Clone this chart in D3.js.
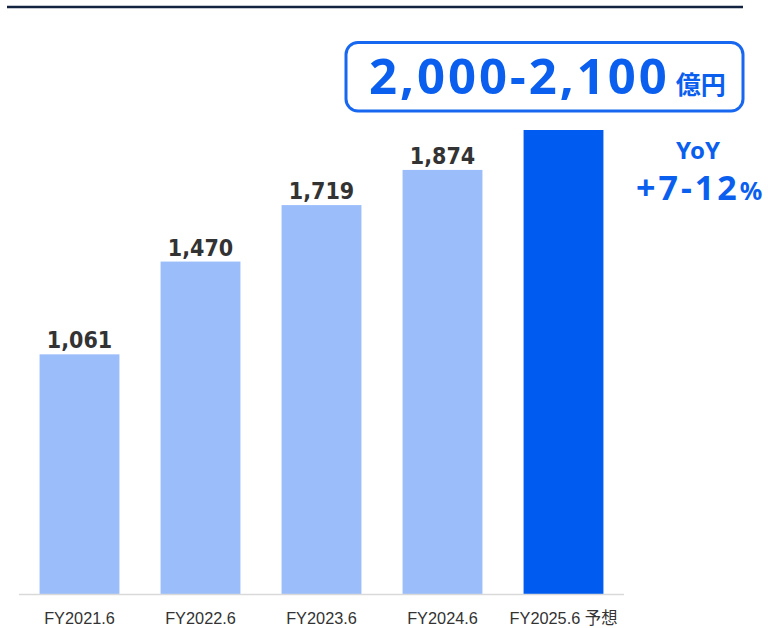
<!doctype html>
<html lang="ja">
<head>
<meta charset="utf-8">
<title>売上推移</title>
<script src="https://cdn.jsdelivr.net/npm/d3@7"></script>
<style>
  body { margin: 0; background: #fff; }
  svg { display: block; font-family: "DejaVu Sans", Verdana, sans-serif; }
</style>
</head>
<body>
<div id="chart"></div>
<script>
  // data
  let categories = ["FY2021.6", "FY2022.6", "FY2023.6", "FY2024.6", "FY2025.6 予想"];
  let values = [1061, 1470, 1719, 1874, 2050];
  let labels = ["1,061", "1,470", "1,719", "1,874", ""];
  let forecastRange = "2,000-2,100";
  let forecastUnit = "億円";
  let yoyText = "+7-12";

  let w = 768, h = 628;
  let blue = "#0b5fef";
  let svg = d3.select("#chart").append("svg")
    .attr("width", w).attr("height", h);

  // top rule
  svg.append("line")
    .attr("x1", 7).attr("x2", 743).attr("y1", 7).attr("y2", 7)
    .attr("stroke", "#13233f").attr("stroke-width", 2.5);

  let x = d3.scaleBand()
    .domain(categories)
    .range([19, 624])
    .paddingInner(0.34)
    .paddingOuter(0.17);

  let y = d3.scaleLinear()
    .domain([0, 2050])
    .range([595, 130]);

  // bars
  svg.selectAll("rect.bar")
    .data(values)
    .enter()
    .append("rect")
    .attr("class", "bar")
    .attr("x", (d, i) => x(categories[i]))
    .attr("width", x.bandwidth())
    .attr("y", d => y(d))
    .attr("height", d => y(0) - y(d))
    .attr("fill", (d, i) => i === 4 ? "#005cf0" : "#9bbefb");

  // baseline
  svg.append("line")
    .attr("x1", 19).attr("x2", 624)
    .attr("y1", 594.5).attr("y2", 594.5)
    .attr("stroke", "#d9d9d9").attr("stroke-width", 1.5);

  // value labels (slightly condensed, like the original)
  svg.selectAll("text.val")
    .data(values)
    .enter()
    .append("text")
    .attr("class", "val")
    .attr("transform", (d, i) =>
      "translate(" + (x(categories[i]) + x.bandwidth() / 2) + "," + (y(d) - 6) + ") scale(0.9,1)")
    .attr("text-anchor", "middle")
    .attr("font-size", 23)
    .attr("font-weight", "bold")
    .attr("fill", "#333")
    .text((d, i) => labels[i]);

  // category labels
  svg.selectAll("text.cat")
    .data(categories)
    .enter()
    .append("text")
    .attr("class", "cat")
    .attr("transform", d =>
      "translate(" + (x(d) + x.bandwidth() / 2) + ",624) scale(0.96,1)")
    .attr("text-anchor", "middle")
    .attr("font-family", "'Liberation Sans', Arial, 'Noto Sans CJK JP', sans-serif")
    .attr("font-size", 17)
    .attr("fill", "#333")
    .text(d => d);

  // forecast box
  svg.append("rect")
    .attr("x", 346).attr("y", 42.5)
    .attr("width", 397).attr("height", 68.5)
    .attr("rx", 12)
    .attr("fill", "#fff")
    .attr("stroke", "#1767f0").attr("stroke-width", 3);

  let ft = svg.append("text")
    .attr("x", 369).attr("y", 94)
    .attr("fill", blue)
    .attr("font-family", "'Noto Sans', 'Noto Sans CJK JP', sans-serif")
    .attr("font-weight", "bold");
  ft.append("tspan").attr("font-size", 49).attr("letter-spacing", 3).text(forecastRange);
  ft.append("tspan").attr("dx", 6).attr("font-size", 25)
    .attr("font-family", "'Noto Sans CJK JP', sans-serif").text(forecastUnit);

  // YoY
  svg.append("text")
    .attr("x", 698).attr("y", 159)
    .attr("text-anchor", "middle")
    .attr("fill", blue)
    .attr("font-family", "'Noto Sans', sans-serif")
    .attr("font-weight", "bold")
    .attr("font-size", 24)
    .text("YoY");

  let yt = svg.append("text")
    .attr("x", 636).attr("y", 200)
    .attr("fill", blue)
    .attr("font-family", "'Noto Sans', sans-serif")
    .attr("font-weight", "bold");
  yt.append("tspan").attr("font-size", 34).attr("letter-spacing", 3).text(yoyText);
  yt.append("tspan").attr("font-size", 25).text("%");
</script>
</body>
</html>
